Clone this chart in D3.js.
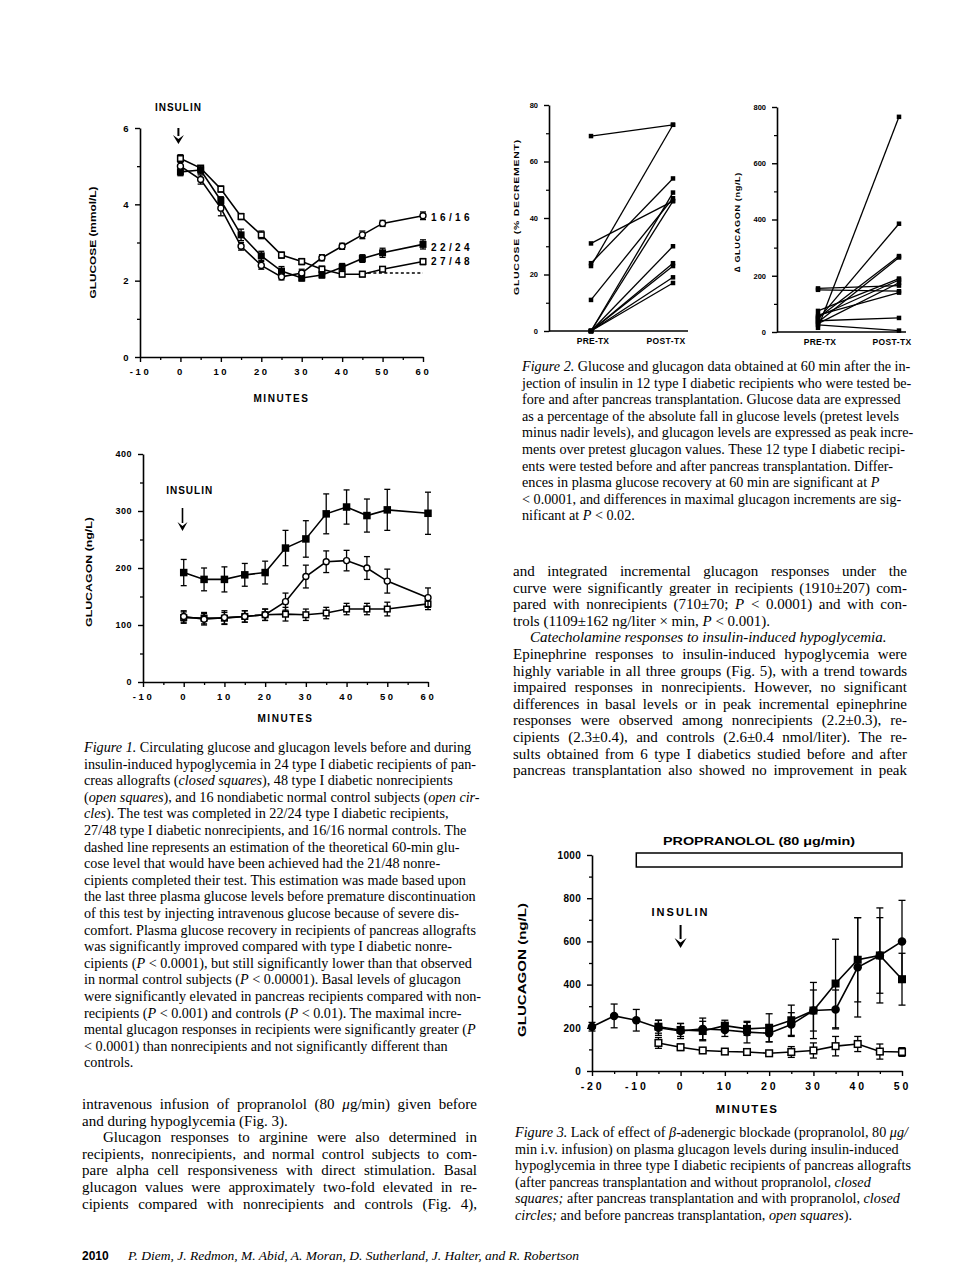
<!DOCTYPE html>
<html>
<head>
<meta charset="utf-8">
<script src="https://cdn.jsdelivr.net/npm/d3@7"></script>
<style>
  body { margin: 0; background: #fff; }
  svg { display: block; }
</style>
</head>
<body>
<svg id="page" width="960" height="1271"></svg>
<script>
// ---- Figure 1 (top): plasma glucose, mmol/L ----
const fig1Minutes   = [0, 5, 10, 15, 20, 25, 30, 35, 40, 45, 50, 60];
const glucRecip     = [4.85, 4.9, 4.1, 3.2, 2.65, 2.25, 2.07, 2.15, 2.35, 2.58, 2.73, 2.95];
const glucRecipSE   = [0.1, 0.1, 0.1, 0.15, 0.12, 0.12, 0.08, 0.08, 0.1, 0.1, 0.12, 0.12];
const glucNonrec    = [5.2, 4.95, 4.4, 3.68, 3.2, 2.67, 2.5, 2.3, 2.17, 2.17, 2.3, 2.5];
const glucNonrecSE  = [0.1, 0.05, 0.08, 0.08, 0.1, 0.08, 0.08, 0.08, 0.07, 0.07, 0.06, 0.08];
const glucCtrl      = [5.0, 4.65, 3.9, 2.9, 2.4, 2.1, 2.2, 2.6, 2.9, 3.2, 3.5, 3.7];
const glucCtrlSE    = [0.12, 0.12, 0.2, 0.1, 0.1, 0.08, 0.1, 0.08, 0.08, 0.1, 0.08, 0.1];
const glucEstMinutes = [45, 60];
const glucEstValues  = [2.2, 2.2];
const glucGroupLabels = ["16/16", "22/24", "27/48"];   // controls, recipients, nonrecipients

// ---- Figure 1 (bottom): plasma glucagon, ng/L ----
const gcgRecip     = [192, 180, 180, 188, 192, 235, 251, 295, 307, 292, 302, 296];
const gcgRecipSE   = [23, 20, 22, 20, 20, 31, 32, 35, 30, 29, 36, 37];
const gcgCtrl      = [115, 110, 113, 115, 118, 141, 185, 211, 213, 200, 177, 148];
const gcgCtrlSE    = [10, 10, 12, 10, 10, 15, 20, 19, 18, 20, 21, 17];
const gcgNonrec    = [113, 112, 112, 115, 118, 119, 118, 121, 128, 128, 128, 137];
const gcgNonrecSE  = [10, 10, 10, 10, 10, 12, 10, 10, 10, 10, 12, 10];

// ---- Figure 2: 12 recipients, before/after transplantation ----
const prePostLabels = ["PRE-TX", "POST-TX"];
const glucDecPre  = [69, 23, 24, 31, 11, 0, 0, 0, 0, 0, 0, 0];
const glucDecPost = [73, 73, 54, 46, 47, 49, 46, 30, 24, 23, 19, 17];
const dGcgPre     = [155, 150, 15, 45, 50, 35, 75, 55, 30, 60, 40, 25];
const dGcgPost    = [165, 145, 765, 385, 270, 265, 190, 185, 175, 140, 50, 5];

// ---- Figure 3: glucagon with / without propranolol ----
const fig3MinutesProp = [-20, -15, -10, -5, 0, 5, 10, 15, 20, 25, 30, 35, 40, 45, 50];
const gcgProp     = [205, 255, 235, 200, 185, 195, 190, 180, 175, 215, 280, 285, 480, 535, 600];
const gcgPropSE   = [20, 55, 50, 35, 35, 50, 30, 50, 40, 55, 95, 90, 230, 175, 190];
const fig3Minutes = [-5, 0, 5, 10, 15, 20, 25, 30, 35, 40, 45, 50];
const gcgNoProp   = [205, 190, 185, 210, 195, 200, 235, 280, 405, 515, 535, 425];
const gcgNoPropSE = [30, 30, 45, 25, 30, 65, 70, 130, 205, 195, 220, 120];
const gcgPreTx    = [130, 110, 95, 90, 88, 82, 88, 95, 115, 125, 90, 88];
const gcgPreTxSE  = [25, 15, 10, 8, 10, 8, 25, 35, 45, 35, 35, 20];
const propranololWindow = [-10, 50];

// ---- page text (lines as set; *...* = italic, leading ">" = indent, trailing "~" = paragraph end) ----
const fig1Caption = [
  "*Figure 1.* Circulating glucose and glucagon levels before and during",
  "insulin-induced hypoglycemia in 24 type I diabetic recipients of pan-",
  "creas allografts (*closed squares*), 48 type I diabetic nonrecipients",
  "(*open squares*), and 16 nondiabetic normal control subjects (*open cir-*",
  "*cles*). The test was completed in 22/24 type I diabetic recipients,",
  "27/48 type I diabetic nonrecipients, and 16/16 normal controls. The",
  "dashed line represents an estimation of the theoretical 60-min glu-",
  "cose level that would have been achieved had the 21/48 nonre-",
  "cipients completed their test. This estimation was made based upon",
  "the last three plasma glucose levels before premature discontinuation",
  "of this test by injecting intravenous glucose because of severe dis-",
  "comfort. Plasma glucose recovery in recipients of pancreas allografts",
  "was significantly improved compared with type I diabetic nonre-",
  "cipients (*P* < 0.0001), but still significantly lower than that observed",
  "in normal control subjects (*P* < 0.00001). Basal levels of glucagon",
  "were significantly elevated in pancreas recipients compared with non-",
  "recipients (*P* < 0.001) and controls (*P* < 0.01). The maximal incre-",
  "mental glucagon responses in recipients were significantly greater (*P*",
  "< 0.0001) than nonrecipients and not significantly different than",
  "controls."
];
const fig2Caption = [
  "*Figure 2.* Glucose and glucagon data obtained at 60 min after the in-",
  "jection of insulin in 12 type I diabetic recipients who were tested be-",
  "fore and after pancreas transplantation. Glucose data are expressed",
  "as a percentage of the absolute fall in glucose levels (pretest levels",
  "minus nadir levels), and glucagon levels are expressed as peak incre-",
  "ments over pretest glucagon values. These 12 type I diabetic recipi-",
  "ents were tested before and after pancreas transplantation. Differ-",
  "ences in plasma glucose recovery at 60 min are significant at *P*",
  "< 0.0001, and differences in maximal glucagon increments are sig-",
  "nificant at *P* < 0.02."
];
const fig3Caption = [
  "*Figure 3.* Lack of effect of *β*-adenergic blockade (propranolol, 80 *μg/*",
  "min i.v. infusion) on plasma glucagon levels during insulin-induced",
  "hypoglycemia in three type I diabetic recipients of pancreas allografts",
  "(after pancreas transplantation and without propranolol, *closed*",
  "*squares;* after pancreas transplantation and with propranolol, *closed*",
  "*circles;* and before pancreas transplantation, *open squares*)."
];
const bodyRight = [
  "and integrated incremental glucagon responses under the",
  "curve were significantly greater in recipients (1910±207) com-",
  "pared with nonrecipients (710±70; *P* < 0.0001) and with con-",
  "trols (1109±162 ng/liter × min, *P* < 0.001).~",
  ">*Catecholamine responses to insulin-induced hypoglycemia.*~",
  "Epinephrine responses to insulin-induced hypoglycemia were",
  "highly variable in all three groups (Fig. 5), with a trend towards",
  "impaired responses in nonrecipients. However, no significant",
  "differences in basal levels or in peak incremental epinephrine",
  "responses were observed among nonrecipients (2.2±0.3), re-",
  "cipients (2.3±0.4), and controls (2.6±0.4 nmol/liter). The re-",
  "sults obtained from 6 type I diabetics studied before and after",
  "pancreas transplantation also showed no improvement in peak"
];
const bodyLeft = [
  "intravenous infusion of propranolol (80 *μ*g/min) given before",
  "and during hypoglycemia (Fig. 3).~",
  ">Glucagon responses to arginine were also determined in",
  "recipients, nonrecipients, and normal control subjects to com-",
  "pare alpha cell responsiveness with direct stimulation. Basal",
  "glucagon values were approximately two-fold elevated in re-",
  "cipients compared with nonrecipients and controls (Fig. 4),"
];
const folio = "2010";
const authors = "P. Diem, J. Redmon, M. Abid, A. Moran, D. Sutherland, J. Halter, and R. Robertson";

// ------------------------------------------------------------------
const SANS = "'Liberation Sans', Arial, Helvetica, sans-serif";
const SERIF = "'Liberation Serif', 'Times New Roman', serif";
const svg = d3.select("#page");
svg.append("rect").attr("width", 960).attr("height", 1271).attr("fill", "#fff");

function label(g, txt, x, y, o) {
  o = o || {};
  const t = g.append("text")
    .attr("x", x).attr("y", y)
    .attr("font-family", SANS).attr("font-weight", "bold")
    .attr("font-size", o.size || 10)
    .attr("letter-spacing", o.ls || 0)
    .attr("text-anchor", o.anchor || "middle")
    .text(txt);
  if (o.len) t.attr("textLength", o.len).attr("lengthAdjust", "spacingAndGlyphs");
  if (o.rotate) t.attr("transform", `rotate(-90,${x},${y})`);
  return t;
}

function styleAxis(sel, fs, ls) {
  sel.attr("font-family", SANS).attr("font-weight", "bold").attr("font-size", fs);
  sel.select(".domain").attr("stroke-width", 1.6);
  sel.selectAll(".tick line").attr("stroke-width", 1.4);
  sel.selectAll(".tick text").attr("letter-spacing", ls).attr("fill", "#000");
}

function axes(g, x, y, o) {
  const x0 = x.range()[0], y0 = y.range()[0];
  if (o.yMinor) {
    g.append("g").attr("transform", `translate(${x0},0)`)
      .call(d3.axisLeft(y).tickValues(o.yMinor).tickSize(3).tickFormat(""))
      .call(s => { s.select(".domain").remove(); s.selectAll("line").attr("stroke-width", 1.3); });
  }
  if (o.xMinor) {
    g.append("g").attr("transform", `translate(0,${y0})`)
      .call(d3.axisBottom(x).tickValues(o.xMinor).tickSize(3).tickFormat(""))
      .call(s => { s.select(".domain").remove(); s.selectAll("line").attr("stroke-width", 1.3); });
  }
  g.append("g").attr("transform", `translate(${x0},0)`)
    .call(d3.axisLeft(y).tickValues(o.yTicks).tickSize(o.tick || 5).tickSizeOuter(0)
      .tickPadding(o.yPad || 6).tickFormat(d => String(d)))
    .call(s => styleAxis(s, o.yFont || 9.5, o.yLs || 0.5));
  if (o.xTicks) {
    g.append("g").attr("transform", `translate(0,${y0})`)
      .call(d3.axisBottom(x).tickValues(o.xTicks).tickSize(o.tick || 5).tickSizeOuter(0)
        .tickPadding(o.xPad || 6).tickFormat(d => String(d)))
      .call(s => styleAxis(s, o.xFont || 9.5, o.xLs || 2.5));
  }
}

function marker(g, type, cx, cy, s) {
  if (type === "sqClosed") {
    g.append("rect").attr("x", cx - s / 2).attr("y", cy - s / 2).attr("width", s).attr("height", s).attr("fill", "#000");
  } else if (type === "sqOpen") {
    g.append("rect").attr("x", cx - s / 2 + 0.7).attr("y", cy - s / 2 + 0.7)
      .attr("width", s - 1.4).attr("height", s - 1.4)
      .attr("fill", "#fff").attr("stroke", "#000").attr("stroke-width", 1.5);
  } else if (type === "circOpen") {
    g.append("circle").attr("cx", cx).attr("cy", cy).attr("r", s / 2 - 0.5)
      .attr("fill", "#fff").attr("stroke", "#000").attr("stroke-width", 1.4);
  } else {
    g.append("circle").attr("cx", cx).attr("cy", cy).attr("r", s / 2).attr("fill", "#000");
  }
}

function series(g, x, y, xs, ys, se, type, size, cap) {
  const pts = xs.map((t, i) => ({ t: t, v: ys[i], e: se ? se[i] : 0 }));
  const eb = g.append("g").attr("stroke", "#000").attr("stroke-width", 1.3);
  pts.forEach(p => {
    if (!p.e) return;
    const cx = x(p.t), y1 = y(p.v + p.e), y2 = y(Math.max(0, p.v - p.e));
    eb.append("line").attr("x1", cx).attr("x2", cx).attr("y1", y1).attr("y2", y2);
    eb.append("line").attr("x1", cx - cap).attr("x2", cx + cap).attr("y1", y1).attr("y2", y1);
    eb.append("line").attr("x1", cx - cap).attr("x2", cx + cap).attr("y1", y2).attr("y2", y2);
  });
  g.append("path")
    .attr("d", d3.line().x(p => x(p.t)).y(p => y(p.v))(pts))
    .attr("fill", "none").attr("stroke", "#000").attr("stroke-width", 1.6);
  const mg = g.append("g");
  pts.forEach(p => marker(mg, type, x(p.t), y(p.v), size));
}

function arrow(g, cx, yTop, yTip, headW, headH, sw) {
  g.append("line").attr("x1", cx).attr("x2", cx).attr("y1", yTop).attr("y2", yTip - headH + 1)
    .attr("stroke", "#000").attr("stroke-width", sw);
  g.append("path")
    .attr("d", `M${cx - headW / 2},${yTip - headH} L${cx},${yTip} L${cx + headW / 2},${yTip - headH} L${cx},${yTip - headH * 0.55} Z`)
    .attr("fill", "#000");
}

// ================= Figure 1, glucose =================
{
  const g = svg.append("g");
  const x = d3.scaleLinear([-10, 60], [140, 423]);
  const y = d3.scaleLinear([0, 6], [357, 128]);
  axes(g, x, y, {
    yTicks: [0, 2, 4, 6], yMinor: [1, 3, 5],
    xTicks: [-10, 0, 10, 20, 30, 40, 50, 60], xMinor: [-5, 5, 15, 25, 35, 45, 55],
    xFont: 9.5, xLs: 2.6, yFont: 9.5
  });
  g.append("path")
    .attr("d", d3.line().x(d => x(d[0])).y(d => y(d[1]))(glucEstMinutes.map((t, i) => [t, glucEstValues[i]])))
    .attr("stroke", "#000").attr("stroke-width", 1.6).attr("stroke-dasharray", "3,2.5").attr("fill", "none");
  series(g, x, y, fig1Minutes, glucNonrec, glucNonrecSE, "sqOpen", 7, 3);
  series(g, x, y, fig1Minutes, glucRecip, glucRecipSE, "sqClosed", 7, 3);
  series(g, x, y, fig1Minutes, glucCtrl, glucCtrlSE, "circOpen", 7, 3);
  const ends = [glucCtrl, glucRecip, glucNonrec].map(s => s[s.length - 1]);
  const nudge = [1, 3, -1];
  glucGroupLabels.forEach((txt, i) =>
    label(g, txt, x(60) + 8, y(ends[i]) + 4 + nudge[i], { anchor: "start", size: 10, ls: 3.4 }));
  label(g, "INSULIN", x(0) - 2, 111, { size: 10, ls: 1 });
  arrow(g, x(-0.5), y(6), y(6) + 16, 11, 9, 2);
  label(g, "GLUCOSE  (mmol/L)", 96, (y(0) + y(6)) / 2, { size: 9.5, rotate: true, len: 112 });
  label(g, "MINUTES", (x(-10) + x(60)) / 2, 402, { size: 10, ls: 1.6 });
}

// ================= Figure 1, glucagon =================
{
  const g = svg.append("g");
  const x = d3.scaleLinear([-10, 60], [143, 428]);
  const y = d3.scaleLinear([0, 400], [682, 454]);
  axes(g, x, y, {
    yTicks: [0, 100, 200, 300, 400], yMinor: [50, 150, 250, 350],
    xTicks: [-10, 0, 10, 20, 30, 40, 50, 60], xMinor: [-5, 5, 15, 25, 35, 45, 55],
    xFont: 9.5, xLs: 2.6, yFont: 9, yLs: 0
  });
  series(g, x, y, fig1Minutes, gcgNonrec, gcgNonrecSE, "sqOpen", 7, 3);
  series(g, x, y, fig1Minutes, gcgCtrl, gcgCtrlSE, "circOpen", 7, 3);
  series(g, x, y, fig1Minutes, gcgRecip, gcgRecipSE, "sqClosed", 7.5, 3);
  label(g, "INSULIN", x(0) + 6, 494, { size: 10, ls: 1 });
  arrow(g, x(-0.3), 508, 531, 10, 9, 1.6);
  label(g, "GLUCAGON  (ng/L)", 92, (y(0) + y(400)) / 2 + 4, { size: 9.5, rotate: true, len: 110 });
  label(g, "MINUTES", (x(-10) + x(60)) / 2, 722, { size: 10, ls: 1.6 });
}

// ================= Figure 2 =================
function prePostPanel(yDomain, yRange, xAxis, xEnd, xPoints, pre, post, o) {
  const g = svg.append("g");
  const y = d3.scaleLinear(yDomain, yRange);
  const x = d3.scalePoint(prePostLabels, xPoints);
  const x0 = xAxis;
  g.append("g").attr("transform", `translate(${x0},0)`)
    .call(d3.axisLeft(y).tickValues(o.minor).tickSize(3).tickFormat(""))
    .call(s => { s.select(".domain").remove(); s.selectAll("line").attr("stroke-width", 1.2); });
  g.append("g").attr("transform", `translate(${x0},0)`)
    .call(d3.axisLeft(y).tickValues(o.ticks).tickSize(5).tickSizeOuter(0).tickPadding(6).tickFormat(d => String(d)))
    .call(s => styleAxis(s, 7.5, 0));
  g.append("line").attr("x1", x0).attr("x2", xEnd).attr("y1", y(0)).attr("y2", y(0))
    .attr("stroke", "#000").attr("stroke-width", 1.6);
  pre.forEach((v, i) => {
    g.append("line").attr("x1", x("PRE-TX")).attr("x2", x("POST-TX"))
      .attr("y1", y(v)).attr("y2", y(post[i]))
      .attr("stroke", "#000").attr("stroke-width", 1.3);
  });
  pre.forEach((v, i) => {
    marker(g, "sqClosed", x("PRE-TX"), y(v), 4.5);
    marker(g, "sqClosed", x("POST-TX"), y(post[i]), 4.5);
  });
  label(g, "PRE-TX", x("PRE-TX") + 2, y(0) + 13, { size: 8.5, ls: 0.2 });
  label(g, "POST-TX", x("POST-TX") - 7, y(0) + 13, { size: 8.5, ls: 0.4 });
  label(g, o.ylabel, o.ylx, o.yly, { size: 8, rotate: true, len: o.ylen, ls: 0.6 });
}
prePostPanel([0, 80], [331, 105], 549, 688, [591, 673], glucDecPre, glucDecPost,
  { ticks: [0, 20, 40, 60, 80], minor: [10, 30, 50, 70], ylabel: "GLUCOSE    (% DECREMENT)", ylx: 519, yly: 217, ylen: 156 });
prePostPanel([0, 800], [332, 107], 777, 906, [818, 899], dGcgPre, dGcgPost,
  { ticks: [0, 200, 400, 600, 800], minor: [100, 300, 500, 700], ylabel: "∆  GLUCAGON  (ng/L)", ylx: 740, yly: 222, ylen: 100 });

// ================= Figure 3 =================
{
  const g = svg.append("g");
  const x = d3.scaleLinear([-20, 50], [592, 902]);
  const y = d3.scaleLinear([0, 1000], [1071, 855]);
  axes(g, x, y, {
    yTicks: [0, 200, 400, 600, 800, 1000], yMinor: [100, 300, 500, 700, 900],
    xTicks: [-20, -10, 0, 10, 20, 30, 40, 50], xMinor: [-15, -5, 5, 15, 25, 35, 45],
    xFont: 10.5, xLs: 2.8, yFont: 10, yLs: 0.3, xPad: 7
  });
  g.append("rect")
    .attr("x", x(propranololWindow[0])).attr("y", y(1000) - 2)
    .attr("width", x(propranololWindow[1]) - x(propranololWindow[0])).attr("height", 14)
    .attr("fill", "#fff").attr("stroke", "#000").attr("stroke-width", 1.5);
  label(g, "PROPRANOLOL  (80  μg/min)", 759, 845, { size: 11.5, len: 192 });
  series(g, x, y, fig3Minutes, gcgPreTx, gcgPreTxSE, "sqOpen", 8, 3.5);
  series(g, x, y, fig3Minutes, gcgNoProp, gcgNoPropSE, "sqClosed", 8, 3.5);
  series(g, x, y, fig3MinutesProp, gcgProp, gcgPropSE, "circClosed", 8.5, 3.5);
  label(g, "INSULIN", x(0), 916, { size: 11, ls: 2 });
  arrow(g, x(0), 925, 948, 12, 10, 2);
  label(g, "GLUCAGON  (ng/L)", 526, 970, { size: 11.5, rotate: true, len: 134 });
  label(g, "MINUTES", (x(-20) + x(50)) / 2, 1113, { size: 11.5, ls: 1.6 });
}

// ================= running text =================
function textBlock(lines, x, y0, lh, width, o) {
  const g = svg.append("g");
  lines.forEach((raw, i) => {
    let s = raw, indent = 0, last = false;
    if (s.startsWith(">")) { indent = o.indent; s = s.slice(1); }
    if (s.endsWith("~")) { last = true; s = s.slice(0, -1); }
    const t = g.append("text")
      .attr("x", x + indent).attr("y", y0 + i * lh)
      .attr("font-family", SERIF).attr("font-size", o.size).attr("fill", "#000");
    s.split("*").forEach((part, k) => {
      if (part) t.append("tspan").attr("font-style", k % 2 ? "italic" : "normal").text(part);
    });
    if (o.justify && !last) {
      const natural = t.node().getComputedTextLength();
      const spaces = (s.match(/ /g) || []).length;
      if (spaces) t.attr("word-spacing", (width - indent - natural) / spaces);
    }
  });
}
textBlock(fig1Caption, 84, 752, 16.6, 394, { size: 14.2, justify: false });
textBlock(fig2Caption, 522, 371, 16.6, 393, { size: 14.2, justify: false });
textBlock(fig3Caption, 515, 1137, 16.6, 400, { size: 14.2, justify: false });
textBlock(bodyRight, 513, 576, 16.6, 394, { size: 15, justify: true, indent: 17 });
textBlock(bodyLeft, 82, 1109, 16.6, 395, { size: 15, justify: true, indent: 21 });

svg.append("text").attr("x", 82).attr("y", 1260)
  .attr("font-family", SANS).attr("font-weight", "bold").attr("font-size", 12).text(folio);
svg.append("text").attr("x", 128).attr("y", 1260)
  .attr("font-family", SERIF).attr("font-style", "italic").attr("font-size", 13.5).text(authors);
</script>
</body>
</html>
